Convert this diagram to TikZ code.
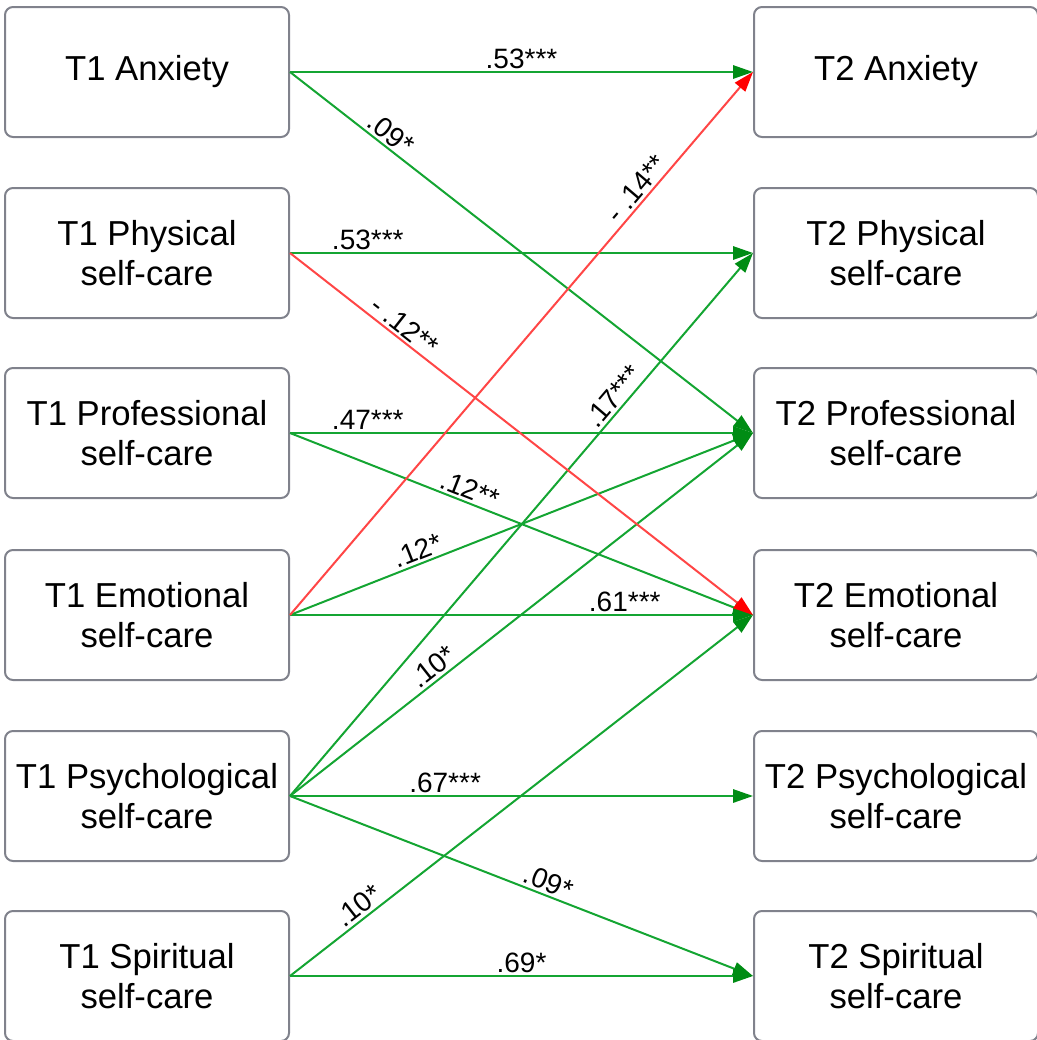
\documentclass[tikz,border=0pt]{standalone}
\usepackage{fontspec}
\setmainfont{Liberation Sans}
\usepackage{tikz}
\usetikzlibrary{arrows.meta}
\definecolor{boxgray}{RGB}{128,130,140}
\definecolor{pathgreen}{RGB}{20,165,50}
\definecolor{tipgreen}{RGB}{0,140,20}
\definecolor{pathred}{RGB}{255,70,70}
\definecolor{tipred}{RGB}{255,0,0}

\begin{document}
\begin{tikzpicture}[x=0.75pt,y=-0.75pt,
		varbox/.style={draw=boxgray,line width=1.5pt,rounded corners=6pt,minimum width=213pt,minimum height=97.5pt,align=center,inner sep=0pt,font=\fontsize{26}{30}\selectfont},
		pospath/.style={draw=pathgreen,line width=1.5pt,-{Triangle[length=15pt,width=10pt,color=tipgreen]}},
		negpath/.style={draw=pathred,line width=1.5pt,-{Triangle[length=15pt,width=10pt,color=tipred]}},
		coef/.style={font=\fontsize{21}{24}\selectfont,inner sep=2pt,sloped,above}]
				\useasboundingbox (0,0) rectangle (1037,1040);
				% time 1
				\node [varbox] (t1anx) at (147,72) {T1 Anxiety};
				\node [varbox] (t1phys) at (147,253) {T1 Physical\\self-care};
				\node [varbox] (t1prof) at (147,433) {T1 Professional\\self-care};
				\node [varbox] (t1emo) at (147,615) {T1 Emotional\\self-care};
				\node [varbox] (t1psych) at (147,796) {T1 Psychological\\self-care};
				\node [varbox] (t1spir) at (147,976) {T1 Spiritual\\self-care};
				% time 2
				\node [varbox] (t2anx) at (896,72) {T2 Anxiety};
				\node [varbox] (t2phys) at (896,253) {T2 Physical\\self-care};
				\node [varbox] (t2prof) at (896,433) {T2 Professional\\self-care};
				\node [varbox] (t2emo) at (896,615) {T2 Emotional\\self-care};
				\node [varbox] (t2psych) at (896,796) {T2 Psychological\\self-care};
				\node [varbox] (t2spir) at (896,976) {T2 Spiritual\\self-care};
				% paths
				\draw [pospath] (t1anx.east) -- node [coef,pos=0.5] {.53***} (t2anx.west);
				\draw [pospath] (t1anx.east) -- node [coef,pos=0.2] {.09*} (t2prof.west);
				\draw [pospath] (t1phys.east) -- node [coef,pos=0.168] {.53***} (t2phys.west);
				\draw [pospath] (t1prof.east) -- node [coef,pos=0.168] {.47***} (t2prof.west);
				\draw [pospath] (t1prof.east) -- node [coef,pos=0.378] {.12**} (t2emo.west);
				\draw [pospath] (t1emo.east) -- node [coef,pos=0.286] {.12*} (t2prof.west);
				\draw [pospath] (t1emo.east) -- node [coef,pos=0.723] {.61***} (t2emo.west);
				\draw [pospath] (t1psych.east) -- node [coef,pos=0.72] {.17***} (t2phys.west);
				\draw [pospath] (t1psych.east) -- node [coef,pos=0.327] {.10*} (t2prof.west);
				\draw [pospath] (t1psych.east) -- node [coef,pos=0.335] {.67***} (t2psych.west);
				\draw [pospath] (t1psych.east) -- node [coef,pos=0.548] {.09*} (t2spir.west);
				\draw [pospath] (t1spir.east) -- node [coef,pos=0.165] {.10*} (t2emo.west);
				\draw [pospath] (t1spir.east) -- node [coef,pos=0.5] {.69*} (t2spir.west);
				\draw [negpath] (t1phys.east) -- node [coef,pos=0.23] {- .12**} (t2emo.west);
				\draw [negpath] (t1emo.east) -- node [coef,pos=0.77] {- .14**} (t2anx.west);
\end{tikzpicture}
\end{document}
